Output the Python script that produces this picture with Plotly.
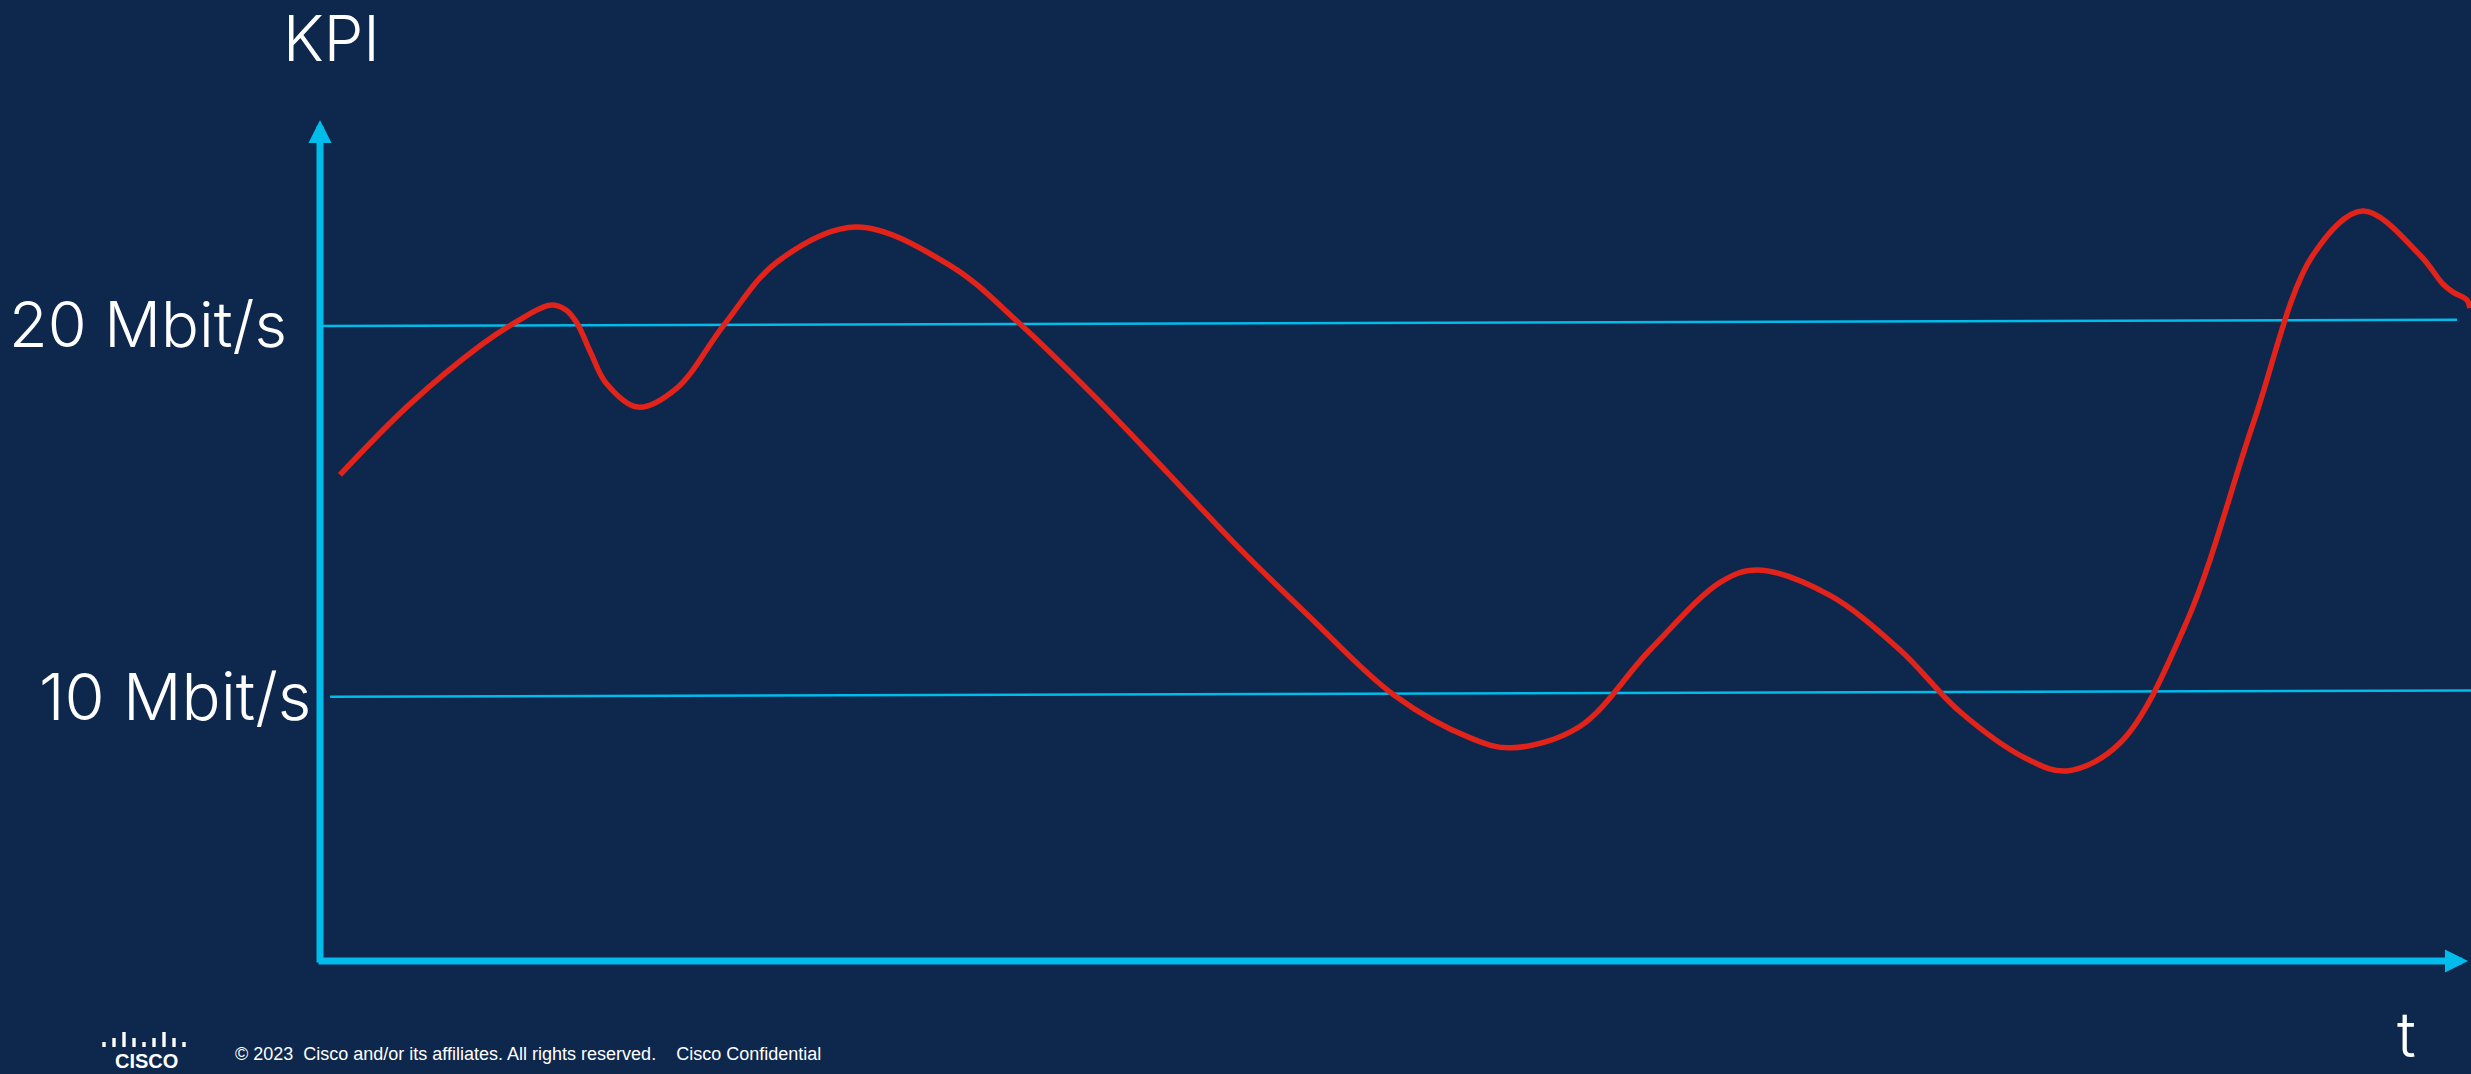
import plotly.graph_objects as go

# ---------------- data (time units, Mbit/s) ----------------
kpi_t = [0.93, 4.14, 7.49, 9.12, 10.70, 11.44, 11.95, 12.60, 13.30, 14.79, 16.60, 18.79,
         21.26, 24.93, 29.35, 32.51, 36.00, 39.35, 42.65, 46.00, 49.95, 53.53, 55.40,
         58.56, 61.86, 65.16, 66.84, 70.19, 73.49, 76.28, 79.40, 81.26, 83.72, 86.84,
         89.91, 92.70, 95.02, 97.67, 98.74, 99.21, 99.86, 100.0]
kpi_v = [16.00, 17.88, 19.49, 20.11, 20.56, 20.43, 20.08, 19.27, 18.47, 17.82, 18.33, 20.03,
         21.72, 22.66, 21.61, 20.08, 18.12, 16.10, 14.09, 12.20, 10.08, 8.92, 8.66,
         9.22, 11.29, 13.12, 13.44, 12.77, 11.29, 9.63, 8.36, 8.04, 8.79, 12.07,
         17.37, 21.91, 23.09, 21.91, 21.13, 20.91, 20.70, 20.48]

line20_t = [0.0, 99.4]
line20_v = [20.0, 20.17]
line10_t = [0.47, 100.05]
line10_v = [10.03, 10.2]

tick_labels = ["20 Mbit/s", "10 Mbit/s"]
tick_values = [20.0, 10.0]
y_title = "KPI"
x_title = "t"
footer = "\u00a9 2023\u00a0\u00a0Cisco and/or its affiliates. All rights reserved.\u00a0\u00a0\u00a0 Cisco Confidential"

# ---------------- style ----------------
W, H = 2471, 1074
BG = "#0E274D"
CYAN = "#00BCEB"
RED = "#E2231A"
FONT = "Inter"

x_range = [-14.884, 100.047]
y_range = [-0.108, 28.763]

fig = go.Figure()
fig.add_trace(go.Scatter(x=line20_t, y=line20_v, mode="lines",
                         line=dict(color=CYAN, width=2.5), hoverinfo="skip"))
fig.add_trace(go.Scatter(x=line10_t, y=line10_v, mode="lines",
                         line=dict(color=CYAN, width=2.5), hoverinfo="skip"))
fig.add_trace(go.Scatter(x=kpi_t, y=kpi_v, mode="lines",
                         line=dict(color=RED, width=5.5, shape="spline", smoothing=1.0),
                         hoverinfo="skip"))

annotations = []
# axis arrows
annotations.append(dict(x=0, y=25.54, ax=0, ay=2.85, xref="x", yref="y", axref="x", ayref="y",
                        text="", showarrow=True, arrowhead=2, arrowsize=0.66, arrowwidth=7,
                        arrowcolor=CYAN, standoff=0, startstandoff=0))
annotations.append(dict(x=99.91, y=2.93, ax=-0.14, ay=2.93, xref="x", yref="y", axref="x", ayref="y",
                        text="", showarrow=True, arrowhead=2, arrowsize=0.66, arrowwidth=7,
                        arrowcolor=CYAN, standoff=0, startstandoff=0))
# tick labels
label_x = [-1.42, -0.33]
label_size = [63, 65]
for lab, v, lx, fs in zip(tick_labels, tick_values, label_x, label_size):
    annotations.append(dict(x=lx, y=v + 0.05, xref="x", yref="y", text=lab, showarrow=False,
                            xanchor="right", yanchor="middle",
                            font=dict(family=FONT, size=fs, color="white", weight=300)))
annotations.append(dict(x=-1.81, y=27.75, xref="x", yref="y", text=y_title, showarrow=False,
                        xanchor="left", yanchor="middle",
                        font=dict(family=FONT, size=63, color="white", weight=300)))
annotations.append(dict(x=97.07, y=0.96, xref="x", yref="y", text=x_title, showarrow=False,
                        xanchor="center", yanchor="middle",
                        font=dict(family=FONT, size=63, color="white", weight=300)))
# footer
annotations.append(dict(x=233 / W, y=1 - 1054 / H, xref="paper", yref="paper", text=footer,
                        showarrow=False, xanchor="left", yanchor="middle",
                        font=dict(family="Liberation Sans", size=18, color="white")))
annotations.append(dict(x=146 / W, y=1 - 1061 / H, xref="paper", yref="paper", text="CISCO",
                        showarrow=False, xanchor="center", yanchor="middle",
                        font=dict(family="Liberation Sans", size=20, color="white", weight="bold")))

# cisco logo bars
shapes = []
bar_h = [5, 9, 15, 9, 5, 9, 15, 9, 5]
for i, h in enumerate(bar_h):
    cx = 104 + i * 10.0
    shapes.append(dict(type="rect", xref="paper", yref="paper",
                       x0=(cx - 1.7) / W, x1=(cx + 1.7) / W,
                       y0=1 - 1047 / H, y1=1 - (1047 - h) / H,
                       fillcolor="white", line=dict(width=0)))

fig.update_layout(
    width=W, height=H, margin=dict(l=0, r=0, t=0, b=0),
    paper_bgcolor=BG, plot_bgcolor=BG, showlegend=False,
    xaxis=dict(range=x_range, visible=False, fixedrange=True),
    yaxis=dict(range=y_range, visible=False, fixedrange=True),
    annotations=annotations, shapes=shapes,
)

fig.write_html("out.html", config={"displayModeBar": False},
               post_script="document.body.style.margin='0';document.body.style.overflow='hidden';")
